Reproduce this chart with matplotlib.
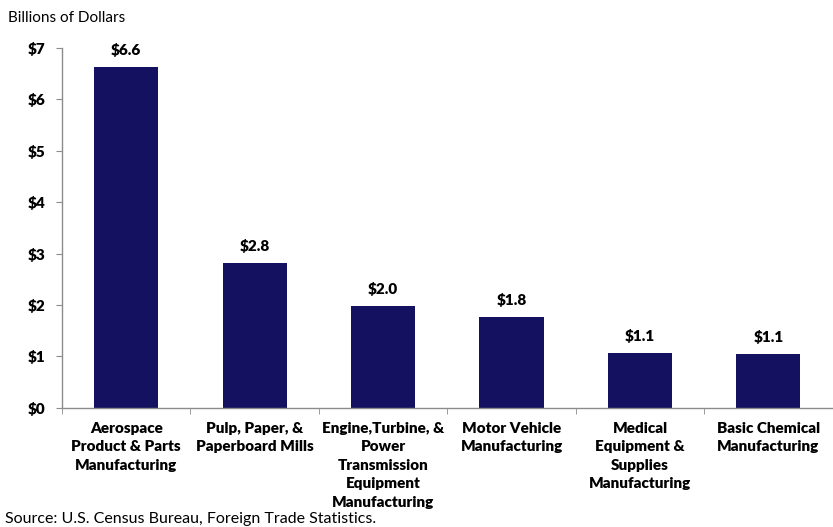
import matplotlib.pyplot as plt
import numpy as np

plt.rcParams['font.family'] = ['Lato', 'DejaVu Sans']

industries = ["Aerospace\nProduct & Parts\nManufacturing",
              "Pulp, Paper, &\nPaperboard Mills",
              "Engine,Turbine, &\nPower\nTransmission\nEquipment\nManufacturing",
              "Motor Vehicle\nManufacturing",
              "Medical\nEquipment &\nSupplies\nManufacturing",
              "Basic Chemical\nManufacturing"]
exports = [6.63, 2.82, 1.99, 1.77, 1.07, 1.05]
yticks = [0, 1, 2, 3, 4, 5, 6, 7]

navy = "#131160"
gris = "#8c8c8c"

fig = plt.figure(figsize=(8.33, 5.27), dpi=100)
ax = fig.add_axes([0.0745, 0.226, 0.925, 0.683])

x = np.arange(len(industries))
ax.bar(x, exports, width=0.5, color=navy)

# etiquetas de valor encima de cada barra
for xi, v in zip(x, exports):
    ax.annotate("$%.1f" % v, (xi, v), xytext=(0, 7), textcoords="offset points",
                ha="center", va="bottom", fontsize=11, fontweight="heavy")

ax.set_xlim(-0.5, len(industries) - 0.5)
ax.set_ylim(0, 7)
ax.set_yticks(yticks)
ax.set_yticklabels(["$%d" % t for t in yticks], fontsize=11, fontweight="heavy")

ax.set_xticks(x)
ax.set_xticklabels(industries, fontsize=11, fontweight="heavy", linespacing=1.5)
ax.set_xticks(np.arange(len(industries) + 1) - 0.5, minor=True)
ax.tick_params(axis="x", which="major", length=0, pad=10)
ax.tick_params(axis="x", which="minor", length=4, color=gris, direction="out")
ax.tick_params(axis="y", length=4, color=gris, pad=8)

for s in ["top", "right"]:
    ax.spines[s].set_visible(False)
for s in ["left", "bottom"]:
    ax.spines[s].set_color(gris)
    ax.spines[s].set_linewidth(1)

fig.text(0.01, 0.966, "Billions of Dollars", fontsize=11, va="center")
fig.text(0.006, 0.016, "Source: U.S. Census Bureau, Foreign Trade Statistics.",
         fontsize=11.5, va="center")

fig.savefig("out.png", dpi=100)
